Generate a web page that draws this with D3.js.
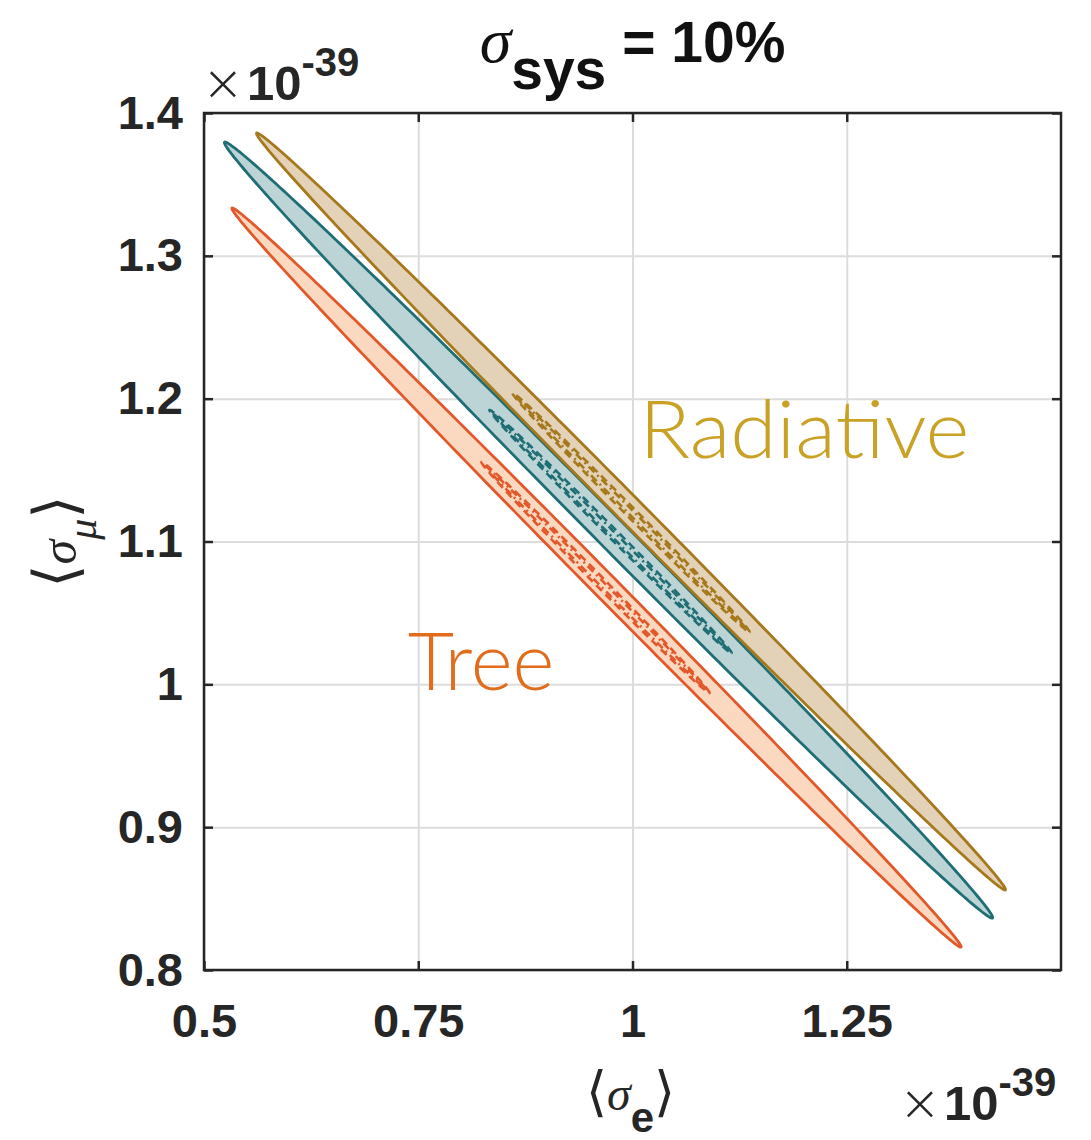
<!DOCTYPE html>
<html>
<head>
<meta charset="utf-8">
<script src="https://cdn.jsdelivr.net/npm/d3@7"></script>
<style>
  body { margin: 0; background: #fff; }
</style>
</head>
<body>
<div id="chart"></div>
<script>
// Axes (values in units of 1e-39)
var xDomain = [0.5, 1.5],
    yDomain = [0.8, 1.4],
    xTicks = [0.5, 0.75, 1, 1.25],
    yTicks = [0.8, 0.9, 1, 1.1, 1.2, 1.3, 1.4];

// Contours, one entry per model
var models = ["Tree", "Mixed", "Radiative"],
    lineColors = ["#e2582a", "#1f6e75", "#a6781c"],
    fillColors = ["#fbd7bd", "#b8d2d3", "#e2d0b4"];

// outer (filled) contour: both tips and horizontal half width at the centre
var outerTipA = [[0.533, 1.3335], [0.5245, 1.3797], [0.5618, 1.386]],
    outerTipB = [[1.383, 0.816], [1.4196, 0.8363], [1.4347, 0.856]],
    outerHalfWidth = [0.020, 0.025, 0.0215];

// inner contours: dashed one and dash-dot one
var dashTipA = [[0.824, 1.1557], [0.8333, 1.1921], [0.8601, 1.204]],
    dashTipB = [[1.0897, 0.9939], [1.1154, 1.0219], [1.1364, 1.0366]],
    dashHalfWidth = [0.0080, 0.0080, 0.0080];

var dotTipA = [[0.829, 1.1525], [0.838, 1.189], [0.865, 1.201]],
    dotTipB = [[1.085, 0.997], [1.110, 1.025], [1.131, 1.040]],
    dotHalfWidth = [0.0040, 0.0040, 0.0040];

// Text labels placed in data coordinates
var labelNames = ["Tree", "Radiative"],
    labelColors = ["#e06c1c", "#c9a125"],
    labelPos = [[0.7378, 0.996], [1.008, 1.1585]],
    labelWidth = [0.171, 0.385];

var W = 1091, H = 1140,
    margin = {top: 113, right: 30, bottom: 170, left: 204},
    width = W - margin.left - margin.right,
    height = H - margin.top - margin.bottom,
    font = "'Liberation Sans', Arial, Helvetica, sans-serif",
    greek = "'Liberation Serif', 'DejaVu Serif', serif",
    bracket = "'DejaVu Sans', sans-serif";

var svg = d3.select("#chart").append("svg")
    .attr("width", W)
    .attr("height", H)
    .style("font-family", font);

var g = svg.append("g")
    .attr("transform", "translate(" + margin.left + "," + margin.top + ")");

var x = d3.scaleLinear().domain(xDomain).range([0, width]),
    y = d3.scaleLinear().domain(yDomain).range([height, 0]);

// Grid
g.append("g")
    .attr("transform", "translate(0," + height + ")")
    .call(d3.axisBottom(x).tickValues(xTicks).tickSize(-height).tickFormat(""))
    .call(function(s) {
      s.select(".domain").remove();
      s.selectAll("line").attr("stroke", "#dcdcdc").attr("stroke-width", 2);
    });
g.append("g")
    .call(d3.axisLeft(y).tickValues(yTicks).tickSize(-width).tickFormat(""))
    .call(function(s) {
      s.select(".domain").remove();
      s.selectAll("line").attr("stroke", "#dcdcdc").attr("stroke-width", 2);
    });

// Contour path from two tips and a horizontal half width (conjugate diameters)
function ellipsePoints(a, b, h) {
  var cx = (a[0] + b[0]) / 2, cy = (a[1] + b[1]) / 2,
      ux = (b[0] - a[0]) / 2, uy = (b[1] - a[1]) / 2,
      pts = [];
  for (var i = 0; i < 360; i++) {
    var t = i / 360 * 2 * Math.PI;
    pts.push([cx + ux * Math.cos(t) + h * Math.sin(t), cy + uy * Math.cos(t)]);
  }
  return pts;
}

var line = d3.line()
    .x(function(d) { return x(d[0]); })
    .y(function(d) { return y(d[1]); })
    .curve(d3.curveLinearClosed);

var contours = g.append("g").selectAll("g")
  .data(models)
  .enter().append("g");

contours.append("path")
    .attr("d", function(d, i) { return line(ellipsePoints(outerTipA[i], outerTipB[i], outerHalfWidth[i])); })
    .attr("fill", function(d, i) { return fillColors[i]; })
    .attr("fill-opacity", 0.95)
    .attr("stroke", function(d, i) { return lineColors[i]; })
    .attr("stroke-width", 2.8);

contours.append("path")
    .attr("d", function(d, i) { return line(ellipsePoints(dashTipA[i], dashTipB[i], dashHalfWidth[i])); })
    .attr("fill", "none")
    .attr("stroke", function(d, i) { return lineColors[i]; })
    .attr("stroke-width", 2.6)
    .attr("stroke-dasharray", "8,5");

contours.append("path")
    .attr("d", function(d, i) { return line(ellipsePoints(dotTipA[i], dotTipB[i], dotHalfWidth[i])); })
    .attr("fill", "none")
    .attr("stroke", function(d, i) { return lineColors[i]; })
    .attr("stroke-width", 2.6)
    .attr("stroke-dasharray", "8,4,2,4");

// Box and ticks
g.append("rect")
    .attr("width", width)
    .attr("height", height)
    .attr("fill", "none")
    .attr("stroke", "#262626")
    .attr("stroke-width", 2.5);

function styleAxis(s) {
  s.select(".domain").remove();
  s.selectAll("line").attr("stroke", "#262626").attr("stroke-width", 2.5);
  s.selectAll("text")
    .attr("fill", "#262626")
    .style("font-family", font)
    .style("font-size", "47px")
    .style("font-weight", "bold");
}

g.append("g")
    .attr("transform", "translate(0," + height + ")")
    .call(d3.axisBottom(x).tickValues(xTicks).tickSize(-9).tickPadding(34)
      .tickFormat(function(d) { return d3.format("~g")(d); }))
    .call(styleAxis);
g.append("g")
    .call(d3.axisTop(x).tickValues(xTicks).tickSize(-9).tickFormat(""))
    .call(styleAxis);
g.append("g")
    .call(d3.axisLeft(y).tickValues(yTicks).tickSize(-9).tickPadding(21)
      .tickFormat(function(d) { return d3.format("~g")(d); }))
    .call(styleAxis);
g.append("g")
    .attr("transform", "translate(" + width + ",0)")
    .call(d3.axisRight(y).tickValues(yTicks).tickSize(-9).tickFormat(""))
    .call(styleAxis);

// Model labels
g.selectAll(".model-label")
  .data(labelNames)
  .enter().append("text")
    .attr("class", "model-label")
    .attr("x", function(d, i) { return x(labelPos[i][0]); })
    .attr("y", function(d, i) { return y(labelPos[i][1]); })
    .attr("textLength", function(d, i) { return x(labelPos[i][0] + labelWidth[i]) - x(labelPos[i][0]); })
    .attr("lengthAdjust", "spacingAndGlyphs")
    .attr("fill", function(d, i) { return labelColors[i]; })
    .style("font-family", "Lato, 'Open Sans', sans-serif")
    .style("font-weight", 300)
    .style("font-size", "80px")
    .text(function(d) { return d; });

// Exponent markers
function exponent(xp, yp) {
  var t = svg.append("text")
      .attr("x", xp)
      .attr("y", yp)
      .attr("fill", "#262626");
  t.append("tspan").style("font-family", bracket).style("font-weight", 200).style("font-size", "50px").text("\u00d7");
  t.append("tspan").attr("dx", 3).style("font-size", "49px").style("font-weight", "bold").text("10");
  t.append("tspan").attr("dy", -24).style("font-size", "40px").style("font-weight", "bold").text("-39");
}
exponent(202, 100);
exponent(899, 1120);

// Title
var title = svg.append("text")
    .attr("x", margin.left + width / 2)
    .attr("y", 62)
    .attr("text-anchor", "middle")
    .attr("fill", "#111");
title.append("tspan").style("font-family", greek).style("font-style", "italic").style("font-size", "64px").text("\u03c3");
title.append("tspan").attr("dy", 27).style("font-weight", "bold").style("font-size", "57px").text("sys");
title.append("tspan").attr("dy", -27).style("font-weight", "bold").style("font-size", "57px").text(" = 10%");

// Axis labels
var xlab = svg.append("text")
    .attr("x", margin.left + width / 2 - 2)
    .attr("y", 1110)
    .attr("text-anchor", "middle")
    .attr("fill", "#262626")
    .style("font-size", "48px");
xlab.append("tspan").style("font-family", bracket).style("font-size", "54px").text("\u27e8");
xlab.append("tspan").style("font-family", greek).style("font-style", "italic").text("\u03c3");
xlab.append("tspan").attr("dy", 22).style("font-weight", "bold").style("font-size", "42px").text("e");
xlab.append("tspan").attr("dy", -22).style("font-family", bracket).style("font-size", "54px").text("\u27e9");

var ylab = svg.append("text")
    .attr("transform", "translate(76," + (margin.top + height / 2) + ") rotate(-90)")
    .attr("text-anchor", "middle")
    .attr("fill", "#262626")
    .style("font-size", "50px");
ylab.append("tspan").style("font-family", bracket).style("font-size", "60px").text("\u27e8");
ylab.append("tspan").style("font-family", greek).style("font-style", "italic").text("\u03c3");
ylab.append("tspan").attr("dy", 20).style("font-family", greek).style("font-style", "italic").style("font-size", "42px").text("\u03bc");
ylab.append("tspan").attr("dy", -20).style("font-family", bracket).style("font-size", "60px").text("\u27e9");
</script>
</body>
</html>
